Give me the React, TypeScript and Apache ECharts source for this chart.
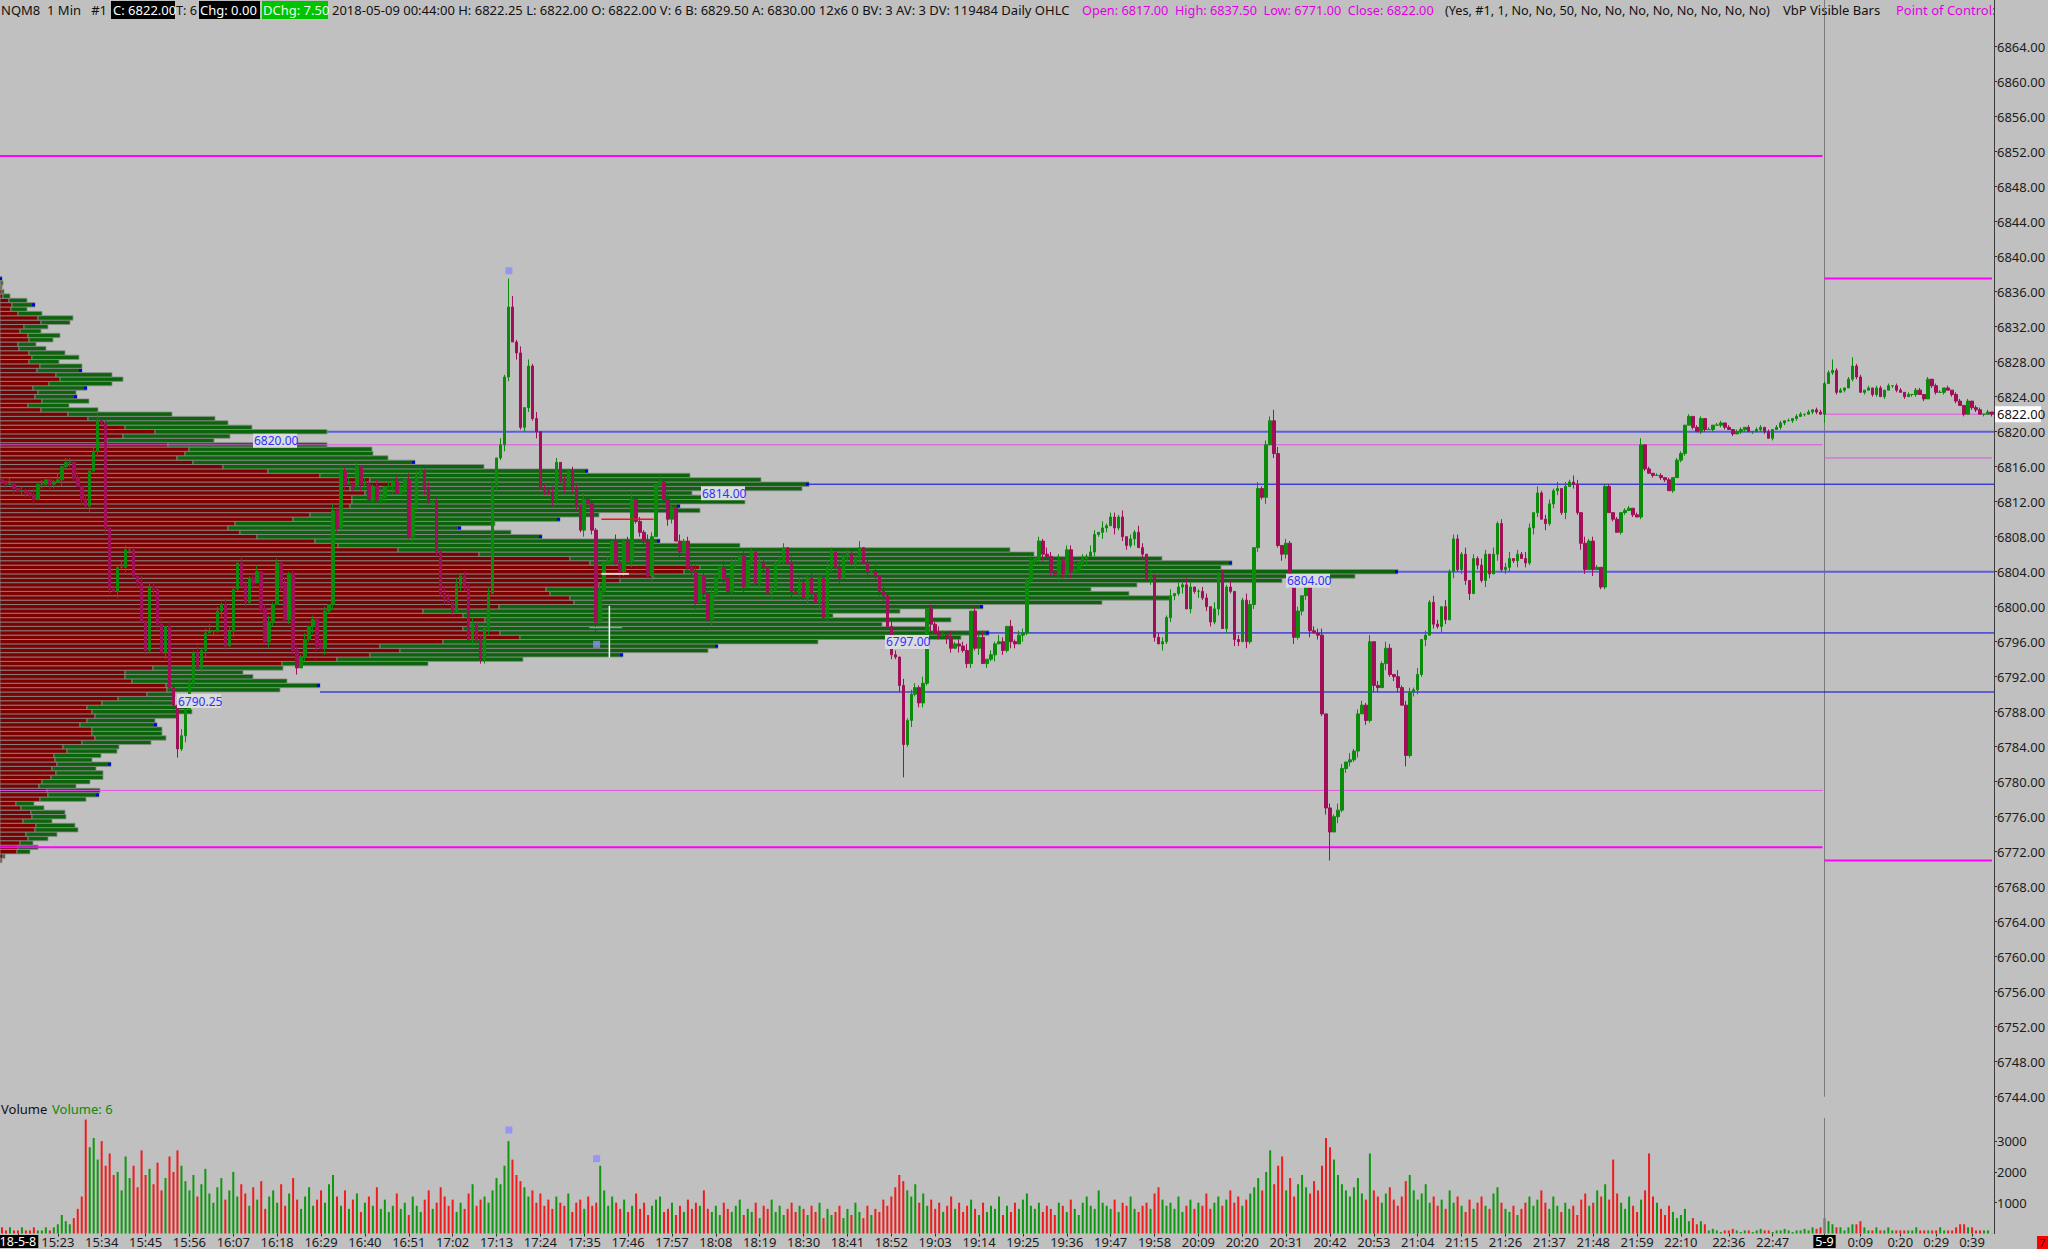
import React, { useEffect, useRef } from 'react';
import * as echarts from 'echarts';

const FONT = "'Noto Sans', 'DejaVu Sans', sans-serif";
const BG = '#c0c0c0';
const W = 2048;
const H = 1249;

// ---------- time categories (1-minute bars) ----------
const sessions = [
  { from: [15, 9], to: [22, 15], skip: [] as string[] },
  { from: [22, 30], to: [22, 59], skip: [] as string[] },
  { from: [0, 0], to: [0, 44], skip: ['0:15', '0:33'] },
];
const tickTimes = ['15:23', '15:34', '15:45', '15:56', '16:07', '16:18', '16:29', '16:40', '16:51', '17:02', '17:13', '17:24', '17:35', '17:46', '17:57', '18:08', '18:19', '18:30', '18:41', '18:52', '19:03', '19:14', '19:25', '19:36', '19:47', '19:58', '20:09', '20:20', '20:31', '20:42', '20:53', '21:04', '21:15', '21:26', '21:37', '21:48', '21:59', '22:10', '22:36', '22:47', '0:00', '0:09', '0:20', '0:29', '0:39'];
const dayLabel = '18-5-8';
const dayLabelBar = 4;
const nightLabel = '5-9';

// ---------- candle closes ----------
const firstOpen = 6814.5;
const closesA = [
  6814.25, 6814.0, 6814.0, 6813.5, 6813.25, 6813.25, 6813.0, 6812.75, 6812.25, 6814.0,
  6814.0, 6814.5, 6814.0, 6814.25, 6814.5, 6816.0, 6816.5, 6816.5, 6814.75, 6813.75,
  6812.25, 6811.5, 6815.5, 6817.75, 6821.25, 6821.0, 6809.0, 6802.0, 6801.75, 6804.5,
  6804.5, 6806.5, 6806.5, 6803.5, 6802.75, 6798.25, 6795.0, 6802.25, 6802.0, 6798.0,
  6794.75, 6797.75, 6790.75, 6788.75, 6783.75, 6785.25, 6788.25, 6791.25, 6794.75, 6793.0,
  6795.0, 6797.0, 6797.25, 6797.25, 6799.5, 6800.25, 6795.5, 6797.25, 6802.0, 6805.0,
  6802.5, 6800.5, 6803.25, 6802.75, 6804.0, 6799.75, 6796.0, 6798.25, 6800.25, 6805.0,
  6802.5, 6798.5, 6803.75, 6795.0, 6793.0, 6794.25, 6796.25, 6797.75, 6798.5, 6795.5,
  6795.25, 6799.5, 6800.25, 6811.0, 6809.0, 6815.5, 6814.0, 6814.0, 6813.75, 6816.0,
  6814.0, 6814.0, 6812.25, 6813.75, 6812.25, 6812.5, 6813.75, 6813.75, 6814.25, 6813.0,
];
const closesB = [
  6813.5, 6814.5, 6808.0, 6811.5, 6815.0, 6815.5, 6813.5, 6812.0, 6812.0, 6806.25,
  6801.5, 6801.0, 6800.5, 6799.5, 6802.5, 6803.5, 6802.25, 6796.25, 6798.0, 6796.25,
  6794.0, 6797.5, 6801.5, 6813.75, 6817.0, 6818.5, 6826.25, 6834.25, 6830.25, 6829.0,
  6820.5, 6822.75, 6827.5, 6821.5, 6820.0, 6813.5, 6813.25, 6813.0, 6812.25, 6816.5,
  6814.25, 6813.75, 6815.5, 6813.5, 6811.5, 6808.75, 6812.25, 6811.75, 6808.75, 6798.25,
  6801.75, 6805.0, 6805.25, 6807.5, 6805.0, 6804.0, 6807.5, 6805.25, 6812.25, 6809.75,
  6808.5, 6807.5, 6803.5, 6808.0, 6814.0, 6814.25, 6812.25, 6810.0, 6811.25, 6807.5,
  6806.25, 6807.5, 6804.5, 6804.0, 6800.5, 6803.5, 6801.5, 6798.5, 6801.5, 6803.25,
  6804.5, 6803.25, 6801.75, 6805.0, 6805.0, 6805.75, 6802.25, 6805.25, 6806.25, 6802.75,
  6805.0, 6804.5, 6801.5, 6802.0, 6805.0, 6805.25, 6806.75, 6805.0, 6801.75, 6801.5,
];
const closesC = [
  6802.75, 6801.0, 6803.25, 6801.5, 6800.5, 6803.25, 6798.75, 6804.5, 6806.25, 6804.5,
  6803.25, 6805.75, 6806.0, 6805.0, 6805.5, 6806.75, 6805.0, 6804.0, 6804.0, 6803.5,
  6801.75, 6801.25, 6797.75, 6794.5, 6794.25, 6791.0, 6784.25, 6787.0, 6790.0, 6790.75,
  6789.0, 6791.25, 6799.75, 6798.0, 6797.0, 6796.75, 6796.75, 6796.5, 6795.25, 6795.75,
  6795.5, 6795.0, 6793.5, 6799.5, 6795.25, 6796.5, 6793.5, 6794.0, 6794.5, 6795.75,
  6796.0, 6795.0, 6797.75, 6796.0, 6795.75, 6796.75, 6797.0, 6803.0, 6805.25, 6805.5,
  6807.5, 6806.0, 6805.75, 6804.0, 6803.75, 6805.25, 6803.75, 6806.5, 6804.0, 6804.25,
  6805.0, 6805.5, 6805.75, 6806.25, 6808.25, 6808.5, 6809.0, 6809.25, 6810.25, 6809.0,
  6810.25, 6808.0, 6807.0, 6807.75, 6808.5, 6806.75, 6806.0, 6803.25, 6803.5, 6796.5,
  6795.75, 6796.0, 6798.75, 6801.25, 6801.5, 6802.25, 6802.5, 6799.75, 6802.25, 6801.75,
];
const closesD = [
  6801.75, 6801.0, 6800.0, 6798.25, 6799.75, 6803.75, 6797.5, 6802.25, 6801.75, 6796.25,
  6796.0, 6800.75, 6796.0, 6800.25, 6806.75, 6813.5, 6812.5, 6818.5, 6821.25, 6817.5,
  6807.0, 6806.0, 6807.25, 6802.25, 6796.5, 6799.5, 6801.25, 6802.25, 6797.25, 6797.0,
  6796.75, 6787.75, 6777.0, 6774.25, 6776.0, 6776.75, 6781.5, 6782.25, 6782.5, 6783.5,
  6787.75, 6788.75, 6787.0, 6796.0, 6791.0, 6790.75, 6793.5, 6795.25, 6792.25, 6792.0,
  6790.75, 6788.75, 6783.0, 6790.25, 6790.5, 6792.25, 6796.25, 6796.75, 6800.5, 6798.0,
  6797.75, 6800.0, 6798.5, 6804.0, 6807.75, 6804.25, 6806.0, 6803.0, 6801.5, 6805.5,
  6804.75, 6803.0, 6806.0, 6803.75, 6806.0, 6809.5, 6804.25, 6804.5, 6805.5, 6805.25,
  6806.0, 6805.5, 6805.0, 6809.0, 6810.75, 6813.0, 6810.0, 6809.5, 6811.75, 6813.25,
  6813.5, 6810.75, 6813.75, 6814.25, 6814.0, 6810.75, 6807.25, 6804.25, 6807.5, 6804.25,
];
const closesE = [
  6804.5, 6802.25, 6813.75, 6810.75, 6810.0, 6808.5, 6810.75, 6811.0, 6811.25, 6810.5,
  6810.25, 6818.5, 6815.75, 6815.25, 6815.0, 6815.0, 6814.75, 6814.5, 6813.25, 6814.75,
  6816.75, 6817.5, 6820.75, 6821.75, 6820.5, 6820.0, 6821.5, 6820.25, 6820.25, 6820.75,
  6820.75, 6821.0, 6820.5, 6820.25, 6819.75, 6820.0, 6820.25, 6820.5, 6820.0, 6820.0,
  6820.25, 6820.5, 6820.0, 6819.25, 6820.25, 6820.5, 6821.0, 6821.25, 6821.25, 6821.5,
  6821.75, 6822.0, 6822.0, 6822.25, 6822.5, 6822.25, 6822.0, 6825.5, 6826.75, 6827.0,
  6824.5, 6824.75, 6825.0, 6826.0, 6827.5, 6826.25, 6824.5, 6824.75, 6825.0, 6824.25,
  6825.0, 6824.0, 6824.75, 6825.25, 6825.25, 6824.75, 6824.5, 6824.0, 6824.25, 6824.25,
  6824.75, 6824.25, 6823.75, 6826.0, 6825.25, 6824.5, 6824.5, 6825.0, 6824.75, 6824.25,
  6823.5, 6823.0, 6822.0, 6823.5, 6822.75, 6822.5, 6822.0, 6822.0, 6822.25, 6822.0,
];

// wick lengths beyond the body, in quarter points (base-36 digits)
const upWicks = [
  '21310212312021312213021231202132120312213021230213',
  '12302132103212302312031221302132031223120321320213',
  '20312213021320312230213203122130213021320312213021',
  '31203212302132031220312130213203122130213203122031',
  '22130213203122130213021320312213021320312230213021',
  '32031221302132031223021320312213021320312213021320',
  '12203121302132031221302132031223021320312213021320',
  '31221302132031221302132031223021320312213021320312',
  '10110101101101011010110101101011010110101101011010',
  '11010110101101011010110101101011010110101101011010',
].join('');
const downWicks = [
  '12031221302132031220313021320312213021320312213021',
  '23021320312213021320312230213203122130213203122130',
  '02132031221302132031223021320312213021320312213021',
  '13021320312213021320312230213203122130213203122130',
  '21320312213021320312230213203122130213203122130213',
  '02132031221302132031223021320312213021320312213021',
  '31221302132031221302132031223021320312213021320312',
  '20312213021320312230213203122130213203122130213203',
  '01101011010110101101011010110101101011010110101101',
  '10101101011010110101101011010110101101011010110101',
].join('');
const highIdx = [24, 127, 128, 132, 319, 411, 459, 464, 457];
const highVal = [6822.0, 6837.5, 6835.5, 6828.25, 6822.5, 6819.25, 6828.25, 6828.5, 6825.75];
const lowIdx = [44, 226, 333, 352, 227, 457, 149];
const lowVal = [6782.75, 6780.5, 6771.0, 6781.75, 6784.0, 6821.0, 6797.0];

// ---------- bar volumes (hundreds of contracts) ----------
const volOpen = [2, 1, 2, 1, 1, 2, 1, 1, 2, 1, 1, 2, 1, 2, 3, 6, 4, 3, 5, 8, 12, 37, 28, 31, 24, 30, 22, 26, 19, 20, 14];
const volMorning = [25, 18, 22, 15, 27, 19, 21, 16, 23, 14, 18, 25, 20, 27, 22, 17, 14, 19, 12, 16, 21, 13, 10, 15, 18, 11, 14, 20, 12, 16,
  13, 9, 15, 11, 17, 8, 12, 14, 10, 16, 9, 13, 18, 11, 8, 12, 15, 9, 11, 14, 10, 16, 19, 12, 9, 14, 8, 11, 13, 7, 10, 12, 9, 15, 8];
const volMidday = [11, 7, 9, 13, 8, 10, 6, 12, 9, 7, 11, 14, 8, 10, 15, 12, 9, 11, 7, 10, 8, 13, 16, 9, 11, 12, 10,
  14, 18, 16, 22, 30, 24, 19, 17,
  15, 12, 14, 10, 13, 9, 11, 8, 12, 10, 9, 13, 7, 10, 11, 8, 12, 9, 10, 22,
  14, 9, 12, 10, 8, 11, 7, 9, 13, 8, 10, 6, 9, 11, 12, 7, 8, 10, 6, 9, 7, 11, 8, 10, 9,
  14, 8, 7, 9, 6, 10, 8, 7, 9, 11, 6, 8, 7, 10, 5, 9, 8, 11, 7, 9, 6, 8, 10, 7, 9,
  8, 6, 9, 7, 10, 5, 8, 6, 7, 9, 5, 8, 6, 10, 7, 5, 9, 6, 8, 7, 11, 9, 12, 15];
const volAfternoon = [19, 17, 14, 12, 16, 10, 13, 9, 11, 8, 10, 7, 9, 12, 8, 10,
  7, 9, 11, 8, 6, 10, 7, 9, 8, 12, 6, 9, 7, 10, 8, 11, 13, 9, 8, 10, 7, 9, 8, 6, 10,
  9, 7, 11, 8, 6, 10, 12, 9, 8, 14, 10, 9, 8, 11, 7, 10, 9, 12, 8, 7, 9, 10, 8, 13, 15,
  11, 9, 10, 8, 12, 7, 9, 11, 8, 10, 9, 13, 8, 10, 12, 9, 11, 14, 10, 12, 9, 11, 13, 15, 18,
  14, 20, 27, 16, 22, 25, 14, 18, 12, 16, 19, 15, 13, 17, 14, 22, 31, 28, 24, 19,
  16, 14, 12, 15, 18, 13, 11, 26, 14, 12, 10, 13, 15, 11, 9, 12, 17, 19, 14, 11];
const volClose = [13, 16, 10, 12, 9, 11, 8, 14, 10, 12, 9, 7, 11, 8, 10, 12, 9, 8, 13, 15, 10, 8, 7, 9, 6,
  8, 10, 12, 9, 11, 14, 10, 8, 12, 9, 7, 10, 8, 9, 6, 11, 13, 9, 10, 14, 12, 16, 11, 24, 13,
  10, 8, 12, 9, 7, 11, 14, 26, 12, 10, 8, 6, 9, 7, 5, 6, 8, 4, 5, 3, 4, 3];
const volLate = [1, 1.5, 1, 0.5, 1, 1, 1.5, 1, 0.5, 1, 1, 0.5, 1, 1.5, 1, 1, 0.5, 1, 1, 1.5, 1, 0.5, 1, 1, 1.5, 1, 2, 1.5, 2];
const volNight = [5, 4, 3, 2, 2, 1, 2, 3, 3, 4, 2, 1, 1, 2, 1, 1, 2, 1, 1, 1, 1, 1, 1, 2, 1, 1, 1, 1, 1, 2, 1, 1, 1, 2, 3, 3, 2, 2, 1, 1, 1, 1, 0.06];

// ---------- volume-by-price profile (rows of 0.5 pt from 6771.00) ----------
const profStart = 6771.0;
const profStep = 0.5;
const profSell = [
  1, 3, 17, 18, 20, 28, 26, 35, 36, 23,
  32, 31, 21, 16, 40, 48, 47, 39, 42, 51,
  56, 52, 57, 55, 54, 67, 63, 82, 95, 92,
  92, 80, 87, 95, 92, 87, 102, 118, 147, 167,
  166, 132, 125, 125, 153, 282, 337, 370, 400, 380,
  443, 520, 500, 463, 470, 485, 463, 423, 499, 574,
  570, 550, 546, 599, 620, 653, 684, 700, 590, 570,
  479, 398, 338, 315, 257, 240, 228, 235, 293, 310,
  340, 350, 352, 352, 365, 350, 395, 370, 320, 268,
  223, 193, 177, 185, 189, 168, 107, 123, 155, 125,
  105, 88, 68, 41, 28, 42, 35, 38, 33, 49,
  60, 56, 37, 40, 29, 32, 29, 19, 18, 29,
  28, 20, 24, 41, 38, 18, 11, 12, 9, 3,
  2, 1, 1, 0,
];
const profTotal = [
  2, 5, 30, 38, 33, 48, 57, 78, 75, 52,
  66, 65, 44, 34, 86, 99, 100, 76, 90, 103,
  103, 96, 111, 92, 101, 117, 119, 151, 166, 162,
  162, 157, 155, 177, 192, 190, 173, 173, 175, 280,
  320, 287, 253, 243, 283, 428, 523, 623, 708, 718,
  818, 961, 989, 930, 882, 951, 833, 900, 983, 1102,
  1170, 1129, 1091, 1137, 1282, 1355, 1398, 1221, 1232, 1162,
  1034, 1010, 740, 660, 542, 511, 461, 495, 560, 599,
  700, 680, 745, 702, 692, 802, 809, 761, 690, 588,
  484, 415, 388, 373, 372, 327, 214, 230, 327, 252,
  228, 215, 172, 98, 69, 89, 77, 76, 87, 112,
  123, 112, 82, 82, 59, 79, 65, 46, 36, 53,
  60, 41, 48, 70, 73, 42, 27, 35, 27, 10,
  4, 2, 3, 2,
];
const profMarkRows = [6837.5, 6834.5, 6827.0, 6825.0, 6824.0, 6816.5, 6815.5, 6814.0, 6811.5, 6810.0, 6809.0, 6808.0, 6807.5, 6805.0, 6804.0, 6800.0, 6797.0, 6795.5, 6794.5, 6791.0, 6786.5, 6782.0, 6778.5];
const profAxisMax = 1994;

// ---------- reference levels ----------
const prevLevels = [6851.5, 6818.5, 6779.0, 6772.5];
const prevWidths = [2, 1, 1, 2];
const nightLevels = [6837.5, 6822.0, 6817.0, 6771.0];
const nightWidths = [2, 1, 1, 2];
const vbpLevels = [6820.0, 6814.0, 6804.0, 6797.0, 6790.25];
const vbpStartRows = [6820.0, 6814.0, 6804.0, 6797.0, 6791.0];
const vbpWidths = [2, 1, 2, 1, 1];
const vbpLabelVol = [253, 701, 1286, 885, 177];
const sessionBreak = 457.5;
const lastPrice = 6822.0;

// markers / cursor leftovers (bar units, price)
const markerBars = [127.6, 149.6];
const markerPrices = [6838.4, 6795.7];
const markerVols = [3360, 2430];

const UP = '#0a8c0a';
const DOWN = '#a10f58';
const VUP = '#0e980e';
const VDOWN = '#f01c1c';

function buildTimes() {
  const out: string[] = [];
  for (const s of sessions) {
    for (let m = s.from[0] * 60 + s.from[1]; m <= s.to[0] * 60 + s.to[1]; m++) {
      const t = `${Math.floor(m / 60)}:${String(m % 60).padStart(2, '0')}`;
      if (!s.skip.includes(t)) out.push(t);
    }
  }
  return out;
}

function buildOption() {
  const times = buildTimes();
  const closes = [...closesA, ...closesB, ...closesC, ...closesD, ...closesE];
  const vols = [...volOpen, ...volMorning, ...volMidday, ...volAfternoon, ...volClose, ...volLate, ...volNight];
  const n = times.length;
  const ohlc = closes.slice(0, n).map((c, i) => {
    const o = i === 0 ? firstOpen : closes[i - 1];
    const up = parseInt(upWicks[i] || '1', 36) * 0.25;
    const dn = parseInt(downWicks[i] || '1', 36) * 0.25;
    let hi = Math.max(o, c) + up;
    let lo = Math.min(o, c) - dn;
    const hk = highIdx.indexOf(i);
    if (hk >= 0) hi = highVal[hk];
    const lk = lowIdx.indexOf(i);
    if (lk >= 0) lo = lowVal[lk];
    return [o, c, lo, hi];
  });
  const volData = vols.slice(0, n).map((v, i) => ({
    value: v * 100,
    itemStyle: { color: ohlc[i] && ohlc[i][1] >= ohlc[i][0] ? VUP : VDOWN },
  }));
  const showIdx = new Set<number>();
  showIdx.add(dayLabelBar);
  times.forEach((t, i) => { if (tickTimes.includes(t)) showIdx.add(i); });

  const profData = profSell.map((s, i) => {
    const p = profStart + i * profStep;
    return [p, s, profTotal[i], profMarkRows.includes(p) ? 1 : 0];
  });
  const rowTotal = (p: number) => profTotal[Math.round((p - profStart) / profStep)];

  const lineSeries = (xi: number, yi: number, data: number[][], color: string, width: number, z = 3) => ({
    type: 'line', xAxisIndex: xi, yAxisIndex: yi, data, symbol: 'none', silent: true, z,
    lineStyle: { color, width }, animation: false,
  });

  const axisText = { color: '#1c1c1c', fontSize: 13, fontFamily: FONT };

  return {
    animation: false,
    backgroundColor: BG,
    grid: [
      { left: 0, right: 54, top: 11.7, height: 1085, containLabel: false, outerBoundsMode: 'none' },
      { left: 0, right: 54, top: 1118, height: 115.5, containLabel: false, outerBoundsMode: 'none' },
    ],
    xAxis: [
      { type: 'category', gridIndex: 0, data: times, show: false, boundaryGap: true },
      { type: 'value', gridIndex: 0, min: 0, max: n, show: false },
      { type: 'value', gridIndex: 0, min: 0, max: profAxisMax, show: false },
      {
        type: 'category', gridIndex: 1, data: times, boundaryGap: true,
        axisLine: { show: false, onZero: false },
        axisTick: { show: true, interval: (i: number) => showIdx.has(i), alignWithLabel: true, length: 3, lineStyle: { color: '#303030' } },
        axisLabel: {
          ...axisText, margin: 1, lineHeight: 14, hideOverlap: false,
          interval: (i: number) => showIdx.has(i),
          formatter: (v: string, i: number) => (i === dayLabelBar ? `{k|${dayLabel}}` : v === '0:00' ? `{k|${nightLabel}}` : v),
          rich: { k: { backgroundColor: '#000', color: '#fff', padding: [0, 2, 0, 2], lineHeight: 14, fontSize: 12.5, fontFamily: FONT } },
        },
        splitLine: { show: false },
      },
      { type: 'value', gridIndex: 1, min: 0, max: n, show: false },
    ],
    yAxis: [
      {
        type: 'value', gridIndex: 0, position: 'right', min: 6744, max: 6868, interval: 4,
        axisLine: { show: false, onZero: false },
        axisTick: { show: true, length: 3, lineStyle: { color: '#303030' } },
        axisLabel: { ...axisText, margin: 3, showMaxLabel: false, formatter: (v: number) => v.toFixed(2) },
        splitLine: { show: false },
      },
      {
        type: 'value', gridIndex: 1, position: 'right', min: 0, max: 3750, interval: 1000,
        axisLine: { show: false, onZero: false },
        axisTick: { show: true, length: 3, lineStyle: { color: '#303030' } },
        axisLabel: { ...axisText, margin: 3, showMinLabel: false, showMaxLabel: false, formatter: (v: number) => String(v) },
        splitLine: { show: false },
      },
    ],
    series: [
      {
        type: 'custom', xAxisIndex: 2, yAxisIndex: 0, z: 1, silent: true,
        encode: { x: 2, y: 0 },
        data: profData,
        renderItem: (params: any, api: any) => {
          const p = api.value(0), s = api.value(1), t = api.value(2), m = api.value(3);
          const a = api.coord([0, p + 0.25]);
          const b = api.coord([s, p - 0.25]);
          const c = api.coord([t, p - 0.25]);
          const h = b[1] - a[1];
          const kids: any[] = [
            { type: 'rect', shape: { x: a[0], y: a[1], width: Math.max(0, b[0] - a[0]), height: h }, style: { fill: '#7c0202', stroke: '#8a8a8a', lineWidth: 0.8 } },
            { type: 'rect', shape: { x: b[0], y: a[1], width: Math.max(0, c[0] - b[0]), height: h }, style: { fill: '#0c650c', stroke: '#8a8a8a', lineWidth: 0.8 } },
          ];
          if (m) kids.push({ type: 'rect', shape: { x: c[0] - 3, y: a[1] + 0.8, width: 3, height: h - 1.6 }, style: { fill: '#0000f0' } });
          return { type: 'group', children: kids };
        },
      },
      ...prevLevels.map((v, k) => lineSeries(1, 0, [[0, v], [sessionBreak - 0.5, v]], prevWidths[k] > 1 ? '#ff00ff' : '#e252e2', prevWidths[k])),
      ...nightLevels.map((v, k) => lineSeries(1, 0, [[sessionBreak, v], [n - 0.5, v]], nightWidths[k] > 1 ? '#ff00ff' : '#e252e2', nightWidths[k])),
      ...vbpLevels.map((v, k) => lineSeries(2, 0, [[rowTotal(vbpStartRows[k]), v], [profAxisMax, v]], vbpWidths[k] > 1 ? '#5c5ce0' : '#0000e0', vbpWidths[k])),
      lineSeries(1, 0, [[sessionBreak, 6744], [sessionBreak, 6868]], '#7a7a7a', 1, 2),
      lineSeries(4, 1, [[sessionBreak, 0], [sessionBreak, 3750]], '#7a7a7a', 1, 2),
      {
        type: 'candlestick', xAxisIndex: 0, yAxisIndex: 0, z: 4, data: ohlc, barWidth: 3, silent: true,
        itemStyle: { color: UP, color0: DOWN, borderColor: UP, borderColor0: DOWN, borderWidth: 1 },
      },
      {
        type: 'bar', xAxisIndex: 3, yAxisIndex: 1, data: volData, barWidth: 2, silent: true,
      },
      // leftover drawing tools / cursor
      lineSeries(1, 0, [[150.8, 6810.0], [163.9, 6810.0]], '#ff1010', 1.5, 6),
      lineSeries(1, 0, [[150.8, 6803.75], [157.7, 6803.75]], '#eed0d0', 2, 6),
      lineSeries(1, 0, [[147.8, 6797.6], [156.0, 6797.6]], '#40e0d8', 1, 6),
      lineSeries(1, 0, [[152.8, 6800.1], [152.8, 6794.2]], '#ffffff', 1.5, 6),
      {
        type: 'scatter', xAxisIndex: 1, yAxisIndex: 0, z: 6, silent: true, symbol: 'rect', symbolSize: 7,
        data: markerBars.map((b, i) => [b, markerPrices[i]]), itemStyle: { color: '#8c8cff' },
      },
      {
        type: 'scatter', xAxisIndex: 4, yAxisIndex: 1, z: 6, silent: true, symbol: 'rect', symbolSize: 7,
        data: markerBars.map((b, i) => [b, markerVols[i]]), itemStyle: { color: '#8c8cff' },
      },
    ],
  };
}

function buildGraphics(chart: any) {
  const px = (xi: number, v: number) => chart.convertToPixel({ xAxisIndex: xi }, v);
  const py = (v: number) => chart.convertToPixel({ yAxisIndex: 0 }, v);
  const font = `13px ${FONT}`;
  const fontNarrow = `12.7px ${FONT}`;
  const g: any[] = [];
  const text = (x: number, y: number, s: string, fill: string, f = font) => ({
    type: 'text', z: 100, style: { x, y, text: s, fill, font: f, align: 'left', verticalAlign: 'middle' },
  });
  const box = (x: number, y: number, w: number, h: number, fill: string) => ({
    type: 'rect', z: 99, shape: { x, y, width: w, height: h }, style: { fill },
  });

  // header
  g.push(text(1, 10, 'NQM8  1 Min   #1', '#111'));
  g.push(box(111, 1, 64, 18, '#000'));
  g.push(text(113, 10, 'C: 6822.00', '#fff'));
  g.push(text(176, 10, 'T: 6', '#111', fontNarrow));
  g.push(box(199, 1, 61, 18, '#000'));
  g.push(text(200, 10, 'Chg: 0.00', '#fff'));
  g.push(box(262, 1, 66, 18, '#00c400'));
  g.push(text(263, 10, 'DChg: 7.50', '#e8ffe8'));
  g.push(text(332, 10, '2018-05-09 00:44:00 H: 6822.25 L: 6822.00 O: 6822.00 V: 6 B: 6829.50 A: 6830.00 12x6 0 BV: 3 AV: 3 DV: 119484 Daily OHLC', '#111'));
  g.push(text(1082, 10, 'Open: 6817.00  High: 6837.50  Low: 6771.00  Close: 6822.00', '#e000e0', fontNarrow));
  g.push(text(1445, 10, '(Yes, #1, 1, No, No, 50, No, No, No, No, No, No, No, No)', '#111', fontNarrow));
  g.push(text(1783, 10, 'VbP Visible Bars', '#111'));
  g.push(text(1896, 10, 'Point of Control: 6804.00', '#e000e0'));

  const axisX = px(1, 500);
  const sepX = px(1, sessionBreak);
  g.push({ type: 'rect', z: 101, shape: { x: axisX + 1, y: 0, width: W - axisX, height: 20 }, style: { fill: BG } });
  g.push({ type: 'line', z: 102, shape: { x1: axisX + 0.5, y1: 0, x2: axisX + 0.5, y2: 1234 }, style: { stroke: '#3a3a3a', lineWidth: 1 } });
  g.push({ type: 'line', z: 102, shape: { x1: sepX, y1: 0, x2: sepX, y2: 12 }, style: { stroke: '#7a7a7a', lineWidth: 1 } });

  // VbP level labels
  vbpLevels.forEach((v, k) => {
    const x = px(2, vbpLabelVol[k]);
    const y = py(v) + 2;
    g.push(box(x, y, 44, 14, '#dcdcdc'));
    g.push(text(x + 1, y + 7, v.toFixed(2), '#3030ff', `12px ${FONT}`));
  });

  // last price tag on axis
  const ly = py(lastPrice);
  g.push({ type: 'rect', z: 103, shape: { x: axisX + 1, y: ly - 8, width: 46, height: 16 }, style: { fill: '#ffffff' } });
  g.push({ ...text(axisX + 3, ly, lastPrice.toFixed(2), '#111', `13px ${FONT}`), z: 104 });

  // volume pane title
  g.push(text(1, 1109, 'Volume', '#111'));
  g.push(text(52, 1109, 'Volume: 6', '#0a8a0a'));

  // corner flag
  g.push(box(2037, 1236, 11, 13, '#ff0000'));
  g.push(text(2039, 1242, '7', '#111', `11px ${FONT}`));
  return g;
}

export default function App() {
  const ref = useRef<HTMLDivElement>(null);
  useEffect(() => {
    if (!ref.current) return;
    const chart = echarts.init(ref.current, null, { renderer: 'svg', width: W, height: H });
    chart.setOption(buildOption() as any);
    chart.setOption({ graphic: buildGraphics(chart) } as any);
    return () => chart.dispose();
  }, []);
  return (
    <div
      ref={ref}
      style={{ position: 'fixed', left: 0, top: 0, width: W, height: H, background: BG }}
    />
  );
}
